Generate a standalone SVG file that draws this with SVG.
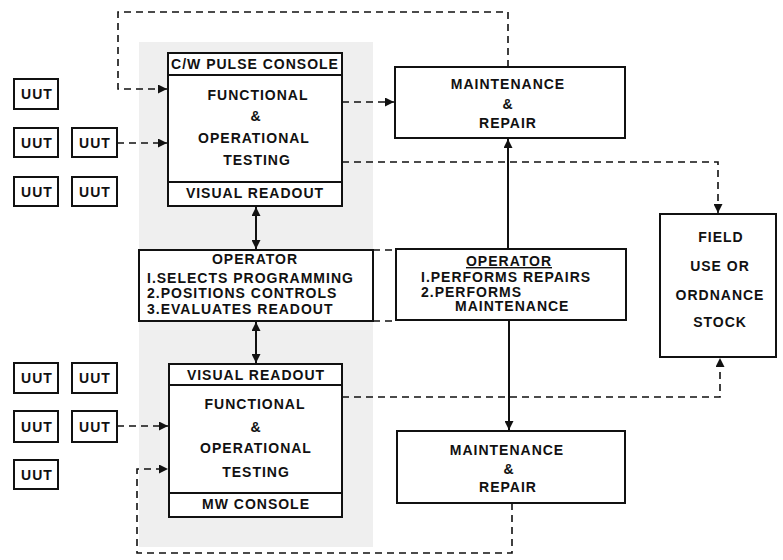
<svg xmlns="http://www.w3.org/2000/svg" width="783" height="560" viewBox="0 0 783 560">
<style>
.box{fill:#fff;stroke:#111;stroke-width:2}
.t{font-family:"Liberation Sans",Arial,sans-serif;font-weight:bold;font-size:14px;letter-spacing:1px;fill:#111;text-anchor:middle}
.tl{text-anchor:start}
.d{fill:none;stroke:#111;stroke-width:1.6;stroke-dasharray:7,5}
.s{fill:none;stroke:#111;stroke-width:2}
</style>
<defs>
<marker id="a" viewBox="0 0 10 10" refX="10" refY="5" markerWidth="10" markerHeight="9" markerUnits="userSpaceOnUse" orient="auto-start-reverse">
<path d="M0,0 L10,5 L0,10 z" fill="#111"/>
</marker>
</defs>
<rect width="783" height="560" fill="#fff"/>
<rect x="139" y="42" width="234" height="505" fill="#efefef"/>

<g id="connectors">
<path class="d" d="M508,67 V12 H118 V89 H167" marker-end="url(#a)"/>
<path class="d" d="M117,143 H167" marker-end="url(#a)"/>
<path class="d" d="M342,102 H394" marker-end="url(#a)"/>
<path class="d" d="M342,162 H718 V213" marker-end="url(#a)"/>
<path class="s" d="M256,207 V249" marker-start="url(#a)" marker-end="url(#a)"/>
<path class="s" d="M256,322 V363" marker-start="url(#a)" marker-end="url(#a)"/>
<path class="d" d="M373,250 H396"/>
<path class="d" d="M373,321 H396"/>
<path class="s" d="M508,249 V139" marker-end="url(#a)"/>
<path class="s" d="M509,320 V430" marker-end="url(#a)"/>
<path class="d" d="M117,426 H168" marker-end="url(#a)"/>
<path class="d" d="M512,503 V553 H137 V469 H168" marker-end="url(#a)"/>
<path class="d" d="M342,397 H720 V358" marker-end="url(#a)"/>
</g>

<g id="uut1"><rect class="box" x="14" y="79" width="44" height="30"/><text class="t" x="37" y="99">UUT</text></g>
<g id="uut2"><rect class="box" x="14" y="128" width="44" height="29"/><text class="t" x="37" y="148">UUT</text></g>
<g id="uut3"><rect class="box" x="72" y="128" width="45" height="29"/><text class="t" x="95" y="148">UUT</text></g>
<g id="uut4"><rect class="box" x="14" y="177" width="44" height="29"/><text class="t" x="37" y="197">UUT</text></g>
<g id="uut5"><rect class="box" x="72" y="177" width="45" height="29"/><text class="t" x="95" y="197">UUT</text></g>

<g id="uut6"><rect class="box" x="14" y="363" width="44" height="30"/><text class="t" x="37" y="383">UUT</text></g>
<g id="uut7"><rect class="box" x="72" y="363" width="45" height="30"/><text class="t" x="95" y="383">UUT</text></g>
<g id="uut8"><rect class="box" x="14" y="411" width="44" height="31"/><text class="t" x="37" y="432">UUT</text></g>
<g id="uut9"><rect class="box" x="72" y="411" width="45" height="31"/><text class="t" x="95" y="432">UUT</text></g>
<g id="uut10"><rect class="box" x="14" y="460" width="44" height="29"/><text class="t" x="37" y="480">UUT</text></g>

<g id="cw-console">
<rect class="box" x="168" y="53" width="174" height="153"/>
<line class="s" x1="168" y1="75" x2="342" y2="75"/>
<line class="s" x1="168" y1="182" x2="342" y2="182"/>
<text class="t" x="255" y="69">C/W PULSE CONSOLE</text>
<text class="t" x="258" y="100">FUNCTIONAL</text>
<text class="t" x="256" y="121">&amp;</text>
<text class="t" x="254" y="143">OPERATIONAL</text>
<text class="t" x="257" y="165">TESTING</text>
<text class="t" x="255" y="198">VISUAL READOUT</text>
</g>

<g id="operator1">
<rect class="box" x="139" y="250" width="234" height="71"/>
<text class="t" x="255" y="264">OPERATOR</text>
<text class="t tl" x="147" y="283">I.SELECTS PROGRAMMING</text>
<text class="t tl" x="147" y="298">2.POSITIONS CONTROLS</text>
<text class="t tl" x="147" y="314">3.EVALUATES READOUT</text>
</g>

<g id="mw-console">
<rect class="box" x="169" y="364" width="173" height="153"/>
<line class="s" x1="169" y1="385" x2="342" y2="385"/>
<line class="s" x1="169" y1="493" x2="342" y2="493"/>
<text class="t" x="256" y="380">VISUAL READOUT</text>
<text class="t" x="255" y="409">FUNCTIONAL</text>
<text class="t" x="256" y="432">&amp;</text>
<text class="t" x="256" y="453">OPERATIONAL</text>
<text class="t" x="256" y="477">TESTING</text>
<text class="t" x="256" y="509">MW CONSOLE</text>
</g>

<g id="maintenance1">
<rect class="box" x="395" y="67" width="230" height="71"/>
<text class="t" x="508" y="89">MAINTENANCE</text>
<text class="t" x="508" y="109">&amp;</text>
<text class="t" x="508" y="128">REPAIR</text>
</g>

<g id="operator2">
<rect class="box" x="396" y="249" width="230" height="71"/>
<text class="t" x="509" y="266" text-decoration="underline">OPERATOR</text>
<text class="t tl" x="421" y="282">I.PERFORMS REPAIRS</text>
<text class="t tl" x="421" y="297">2.PERFORMS</text>
<text class="t tl" x="455" y="311">MAINTENANCE</text>
</g>

<g id="maintenance2">
<rect class="box" x="397" y="431" width="228" height="72"/>
<text class="t" x="507" y="455">MAINTENANCE</text>
<text class="t" x="509" y="474">&amp;</text>
<text class="t" x="508" y="492">REPAIR</text>
</g>

<g id="field">
<rect class="box" x="660" y="214" width="116" height="143"/>
<text class="t" x="721" y="242">FIELD</text>
<text class="t" x="720" y="271">USE  OR</text>
<text class="t" x="720" y="300">ORDNANCE</text>
<text class="t" x="720" y="327">STOCK</text>
</g>
</svg>
